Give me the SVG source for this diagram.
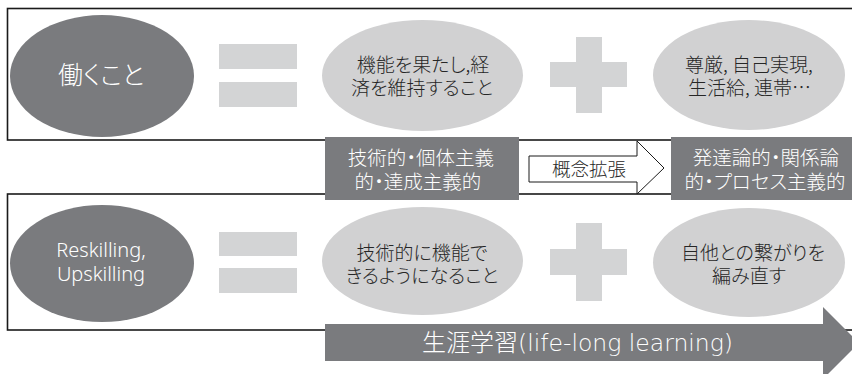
<svg xmlns="http://www.w3.org/2000/svg" width="852" height="374" viewBox="0 0 852 374">
<style>
.frame{fill:none;stroke:#1a1a1a;stroke-width:1.6}
.dark{fill:#7a7b7e}
.light{fill:#d1d1d2}
.sym{fill:#d3d4d5}
.jp{font-family:"Noto Sans CJK JP","Noto Sans",sans-serif;font-feature-settings:"palt";font-weight:300}
.wt{fill:#ffffff}
.bt{fill:#262626}
.mid{text-anchor:middle}
</style>
<rect width="852" height="374" fill="#ffffff"/>
<g id="frame-top"><rect class="frame" x="7.5" y="8.5" width="860" height="131.5"/></g>
<g id="frame-bottom"><rect class="frame" x="7.5" y="194" width="860" height="136"/></g>

<g id="node-hataraku">
<ellipse class="dark" cx="102" cy="76" rx="92" ry="61"/>
<text class="jp wt mid" x="101" y="84" font-size="25">働くこと</text>
</g>
<g id="eq-top"><rect class="sym" x="219" y="44" width="78" height="25"/><rect class="sym" x="219" y="82" width="78" height="25"/></g>
<g id="node-kinou">
<ellipse class="light" cx="422.5" cy="75.5" rx="100.5" ry="55.5"/>
<text class="jp bt mid" font-size="19"><tspan x="423" y="72">機能を果たし,経</tspan><tspan x="422" y="95">済を維持すること</tspan></text>
</g>
<g id="plus-top"><rect class="sym" x="576" y="37" width="26" height="76"/><rect class="sym" x="550" y="62" width="77" height="25"/></g>
<g id="node-songen">
<ellipse class="light" cx="749" cy="75" rx="96" ry="55"/>
<text class="jp bt" font-size="19"><tspan x="685" y="72">尊厳, 自己実現,</tspan><tspan x="688" y="95">生活給, 連帯…</tspan></text>
</g>

<g id="node-gijutsu">
<rect class="dark" x="325" y="137" width="194" height="63"/>
<text class="jp wt mid" font-size="19.5"><tspan x="421" y="165">技術的・個体主義</tspan><tspan x="418" y="189">的・達成主義的</tspan></text>
</g>
<g id="node-hattatsu">
<rect class="dark" x="671" y="137" width="181" height="63"/>
<text class="jp wt mid" font-size="19.5"><tspan x="766" y="165">発達論的・関係論</tspan><tspan x="765" y="189">的・プロセス主義的</tspan></text>
</g>

<g id="connectors">
<polygon points="529,156 637,156 637,141 664,168 637,194 637,182 529,182" fill="#ffffff" stroke="#1a1a1a" stroke-width="1"/>
<text class="jp bt mid" x="589" y="176" font-size="18.5">概念拡張</text>
</g>

<g id="node-reskilling">
<ellipse class="dark" cx="102" cy="263.5" rx="92" ry="58.5"/>
<text class="wt mid" font-family="'Noto Sans',sans-serif" font-size="20" font-weight="300"><tspan x="101" y="257">Reskilling,</tspan><tspan x="101" y="281">Upskilling</tspan></text>
</g>
<g id="eq-bottom"><rect class="sym" x="219" y="232" width="78" height="24"/><rect class="sym" x="219" y="268" width="78" height="25"/></g>
<g id="node-kinoudekiru">
<ellipse class="light" cx="422.5" cy="261" rx="100.5" ry="54"/>
<text class="jp bt mid" font-size="19"><tspan x="422" y="260">技術的に機能で</tspan><tspan x="422" y="283">きるようになること</tspan></text>
</g>
<g id="plus-bottom"><rect class="sym" x="576" y="223" width="26" height="78"/><rect class="sym" x="550" y="249" width="77" height="26"/></g>
<g id="node-tsunagari">
<ellipse class="light" cx="749" cy="262.5" rx="96" ry="54.5"/>
<text class="jp bt mid" font-size="19"><tspan x="753" y="260">自他との繋がりを</tspan><tspan x="749" y="283">編み直す</tspan></text>
</g>

<g id="node-lifelong">
<polygon class="dark" points="325,324 823,324 823,307 859,343 823,379 823,361 325,361"/>
<text class="jp wt" x="422" y="351" font-size="24">生涯学習<tspan font-family="'DejaVu Sans',sans-serif" font-size="23.5">(life-long learning)</tspan></text>
</g>
</svg>
